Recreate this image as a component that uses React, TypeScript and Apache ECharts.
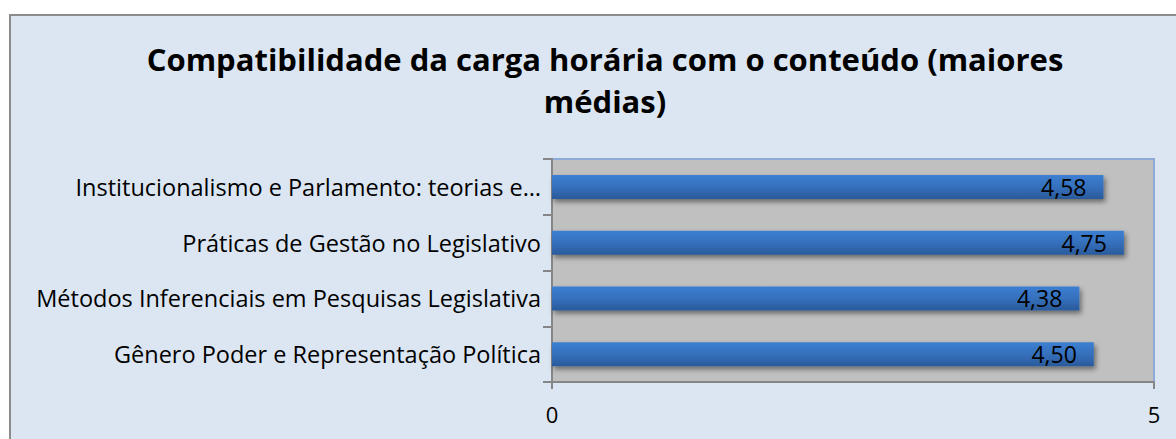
import React, { useEffect, useRef } from "react";
import * as echarts from "echarts";

const titleText = "Compatibilidade da carga horária com o conteúdo (maiores\nmédias)";
const categories = [
  "Institucionalismo e Parlamento: teorias e…",
  "Práticas de Gestão no Legislativo",
  "Métodos Inferenciais em Pesquisas Legislativa",
  "Gênero Poder e Representação Política",
];
const values = [4.58, 4.75, 4.38, 4.5];
const xMin = 0;
const xMax = 5;
const xInterval = 5;

const FONT = "Open Sans";

export default function App() {
  const ref = useRef<HTMLDivElement>(null);
  useEffect(() => {
    if (!ref.current) return;
    const chart = echarts.init(ref.current, undefined, { renderer: "svg" });
    chart.setOption({
      animation: false,
      backgroundColor: "#ffffff",
      graphic: [
        {
          type: "rect",
          z: -10,
          silent: true,
          shape: { x: 10, y: 15, width: 1200, height: 450 },
          style: { fill: "#dce6f2", stroke: "#8c8c8c", lineWidth: 2 },
        },
      ],
      title: {
        text: titleText,
        left: 600,
        textAlign: "center",
        top: 33,
        textStyle: {
          fontFamily: FONT,
          fontWeight: "bold",
          fontSize: 31,
          lineHeight: 42,
          color: "#000",
        },
      },
      grid: {
        left: 552,
        top: 159,
        right: 22,
        bottom: 57,
        show: true,
        backgroundColor: "#c0c0c0",
        borderColor: "#8eaad6",
        borderWidth: 2,
      },
      xAxis: {
        type: "value",
        min: xMin,
        max: xMax,
        interval: xInterval,
        splitLine: { show: false },
        axisLine: { show: true, lineStyle: { color: "#868686", width: 2 } },
        axisTick: { show: true, length: 7, lineStyle: { color: "#868686", width: 2 } },
        axisLabel: {
          margin: 21,
          fontFamily: FONT,
          fontSize: 22,
          color: "#000",
        },
      },
      yAxis: {
        type: "category",
        data: categories,
        inverse: true,
        axisLine: { show: true, lineStyle: { color: "#868686", width: 2 } },
        axisTick: { show: true, length: 9, lineStyle: { color: "#868686", width: 2 } },
        axisLabel: {
          margin: 11,
          fontFamily: FONT,
          fontSize: 23.5,
          color: "#000",
        },
      },
      series: [
        {
          type: "bar",
          data: values,
          barWidth: 24,
          itemStyle: {
            color: new echarts.graphic.LinearGradient(0, 0, 0, 1, [
              { offset: 0, color: "#3d7fd2" },
              { offset: 0.5, color: "#3570bc" },
              { offset: 1, color: "#2a5a9b" },
            ]),
            shadowColor: "rgba(0,0,0,0.45)",
            shadowBlur: 5,
            shadowOffsetX: 2,
            shadowOffsetY: 3,
          },
          label: {
            show: true,
            position: "insideRight",
            distance: 17,
            fontFamily: FONT,
            fontSize: 23,
            color: "#000",
            formatter: (p: any) => Number(p.value).toFixed(2).replace(".", ","),
          },
        },
      ],
    });
    return () => chart.dispose();
  }, []);
  return (
    <div
      ref={ref}
      style={{ position: "absolute", left: 0, top: 0, width: 1176, height: 439 }}
    />
  );
}
